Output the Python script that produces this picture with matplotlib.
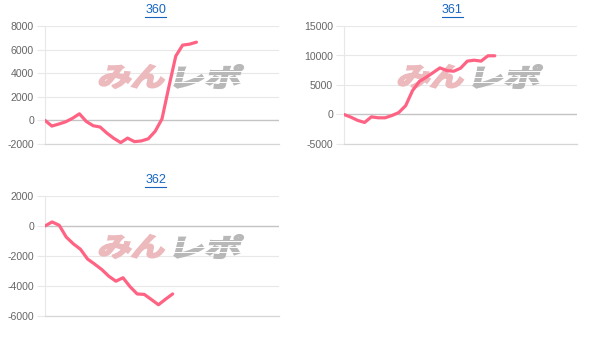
import matplotlib
matplotlib.use('Agg')
import matplotlib.pyplot as plt
from matplotlib.textpath import TextPath
from matplotlib.patches import PathPatch
from matplotlib.font_manager import FontProperties
from matplotlib.transforms import Affine2D, IdentityTransform
import matplotlib.lines as mlines

# data (one value per game slot)
titles = ["360", "361", "362"]
s360 = [0, -480, -310, -120, 180, 560, -90, -450, -560, -1080, -1520,
        -1880, -1500, -1800, -1740, -1560, -930, 130, 2850, 5450, 6380,
        6460, 6630]
s361 = [0, -450, -1000, -1350, -400, -560, -560, -170, 340, 1500, 4050,
        5600, 6320, 7100, 7900, 7450, 7330, 7840, 9050, 9200, 9050, 9950,
        9950]
s362 = [0, 270, 50, -740, -1190, -1550, -2200, -2540, -2900, -3350, -3680,
        -3450, -4050, -4530, -4560, -4900, -5250, -4880, -4530]
yticks360 = [-2000, 0, 2000, 4000, 6000, 8000]
yticks361 = [-5000, 0, 5000, 10000, 15000]
yticks362 = [-6000, -4000, -2000, 0, 2000]
nslots = [34, 34, 33]

W, H = 606, 341
fig = plt.figure(figsize=(W / 100, H / 100), dpi=100)
plt.rcParams['font.family'] = ['Liberation Sans', 'DejaVu Sans']

line_color = '#ff6384'
grid_color = '#e8e8e8'
zero_color = '#c4c4c4'

# panel boxes in pixels: left, top, right, bottom
boxes = [(45, 26, 279, 144), (344, 26, 577, 144), (45, 196, 279, 316)]
series = [s360, s361, s362]
ticks = [yticks360, yticks361, yticks362]
title_dx = [-6.5, -8, -6.5]

wm_font = FontProperties(family='Noto Sans CJK JP', weight='bold')


def watermark(ax, x0, ytop):
    # "みんレポ" logo, slanted; pink + gray halves
    for txt, x, col in [("みん", x0, '#ecb9bd'), ("レポ", x0 + 76, '#b8b8b8')]:
        tp = TextPath((0, 0), txt, size=30, prop=wm_font)
        ext = tp.get_extents()
        sx = 64.0 / ext.width
        sy = 23.0 / ext.height
        tr = (Affine2D().translate(-ext.x0, -ext.y0).scale(sx, sy)
              .skew_deg(14, 0).translate(x, H - ytop - 23) + IdentityTransform())
        p = PathPatch(tp, transform=tr, facecolor=col, edgecolor=col,
                      lw=1.5, zorder=1.5, clip_on=False)
        ax.add_patch(p)
    # speed stripes through the gray part
    for dy in [6, 11.5, 17]:
        yy = H - ytop - dy
        ln = mlines.Line2D([x0 + 74, x0 + 152], [yy, yy], transform=IdentityTransform(),
                           color='white', lw=0.7, zorder=1.6, clip_on=False)
        ax.add_line(ln)


for i in range(3):
    l, t, r, b = boxes[i]
    ax = fig.add_axes([l / W, (H - b) / H, (r - l) / W, (b - t) / H])
    y = series[i]
    ax.plot(range(len(y)), y, color=line_color, lw=2.3, solid_joinstyle='round',
            solid_capstyle='round', zorder=3)
    ax.set_xlim(0, nslots[i])
    ax.set_ylim(ticks[i][0], ticks[i][-1])
    ax.set_yticks(ticks[i])
    ax.set_yticklabels([str(v) for v in ticks[i]])
    ax.set_xticks([])
    for v in ticks[i]:
        if v == 0:
            ax.axhline(0, color=zero_color, lw=1.0, zorder=1)
        else:
            ax.axhline(v, color=grid_color, lw=0.8, zorder=1)
    for side in ['top', 'right']:
        ax.spines[side].set_visible(False)
    ax.spines['left'].set_color(grid_color)
    ax.spines['left'].set_linewidth(0.8)
    ax.spines['bottom'].set_color('#d6d6d6')
    ax.spines['bottom'].set_linewidth(0.9)
    ax.tick_params(axis='y', length=6, width=0.8, color=grid_color, pad=2,
                   labelsize=7.6, labelcolor='#666666')
    watermark(ax, l + 53, t + 39)

    # title, blue underlined link
    cx = (l + r) / 2 + title_dx[i]
    ty = t - 16
    fig.text(cx / W, 1 - ty / H, titles[i], ha='center', va='center',
             fontsize=9, color='#1565c0')
    fig.add_artist(mlines.Line2D([(cx - 10.5) / W, (cx + 10.5) / W],
                                 [1 - (ty + 6.5) / H, 1 - (ty + 6.5) / H],
                                 transform=fig.transFigure, color='#1565c0', lw=0.8))

fig.savefig('out.png', dpi=100)
